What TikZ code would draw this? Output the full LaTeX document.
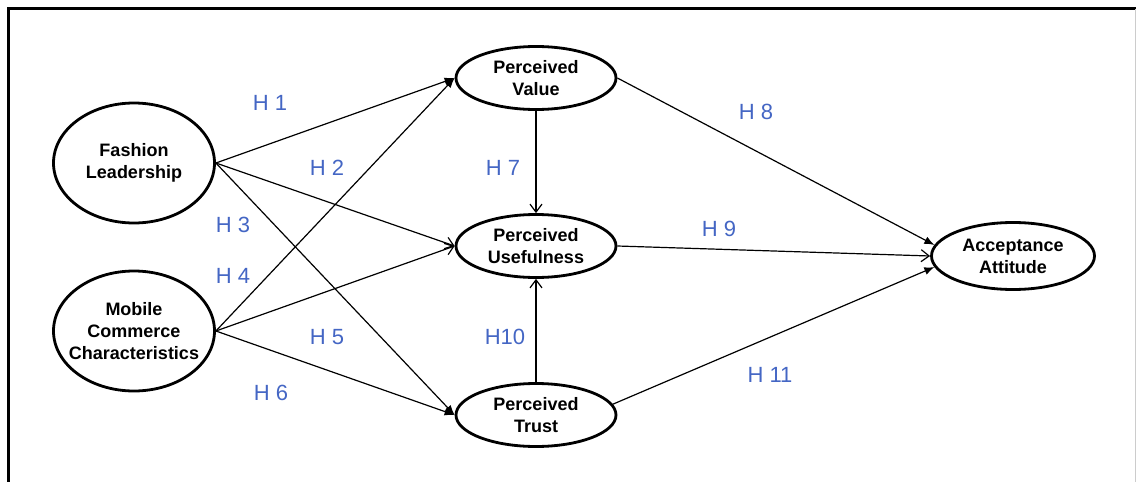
\documentclass[tikz,border=0pt]{standalone}
\usepackage{fontspec}
\setmainfont{Liberation Sans}
\usetikzlibrary{shapes.geometric,arrows.meta}
\definecolor{hypblue}{RGB}{68,102,196}

\begin{document}
\begin{tikzpicture}[x=0.5pt,y=-0.5pt,
    construct/.style={ellipse,draw,line width=1.4pt,inner xsep=-8pt,inner ysep=0pt,
        align=center,font=\bfseries\fontsize{9}{11}\selectfont},
    small/.style={construct,minimum width=80pt,minimum height=31.5pt},
    large/.style={construct,minimum width=80.5pt,minimum height=60pt},
    solidtip/.style={line width=0.6pt,-{Latex[length=5pt,width=4pt]}},
    opentip/.style={line width=0.6pt,-{Straight Barb[length=4pt,width=6pt]}},
    hyp/.style={text=hypblue,font=\fontsize{11}{13}\selectfont}]
    \useasboundingbox (0,0) rectangle (1136,482);
    % Moldura
    \draw[line width=1.5pt] (8,482) -- (8,8.5) -- (1136,8.5);
    \draw[gray!40,line width=0.5pt] (1135,9) -- (1135,482);
    % Construtos
    \node[large] (fl) at (134,163) {Fashion\\Leadership};
    \node[large] (mc) at (134,331) {Mobile\\Commerce\\Characteristics};
    \node[small] (pv) at (536,78) {Perceived\\Value};
    \node[small] (pu) at (536,246) {Perceived\\Usefulness};
    \node[small] (pt) at (536,415) {Perceived\\Trust};
    \node[construct,minimum width=81.5pt,minimum height=33.5pt] (aa) at (1013,256) {Acceptance\\Attitude};
    % Caminhos
    \draw[solidtip] (fl.east) -- (pv.west);
    \draw[opentip] (fl.east) -- (pu.west);
    \draw[solidtip] (fl.east) -- (pt.west);
    \draw[solidtip] (mc.east) -- (pv.west);
    \draw[opentip] (mc.east) -- (pu.west);
    \draw[solidtip] (mc.east) -- (pt.west);
    \draw[opentip] (pv.south) -- (pu.north);
    \draw[opentip] (pt.north) -- (pu.south);
    \draw[solidtip] (pv.east) -- (aa.172);
    \draw[opentip] (pu.east) -- (aa.west);
    \draw[solidtip] (pt.8) -- (aa.188);
    % Hipóteses
    \foreach \n/\x/\y/\t in {h1/270/103/H 1, h2/327/168/H 2, h3/233/225/H 3,
        h4/233/276/H 4, h5/327/337/H 5, h6/271/393/H 6, h7/503/168/H 7,
        h8/756/112/H 8, h9/719/229/H 9, h10/505/337/H10, h11/770/375/H 11}
        \node[hyp] (\n) at (\x,\y) {\t};
\end{tikzpicture}
\end{document}
